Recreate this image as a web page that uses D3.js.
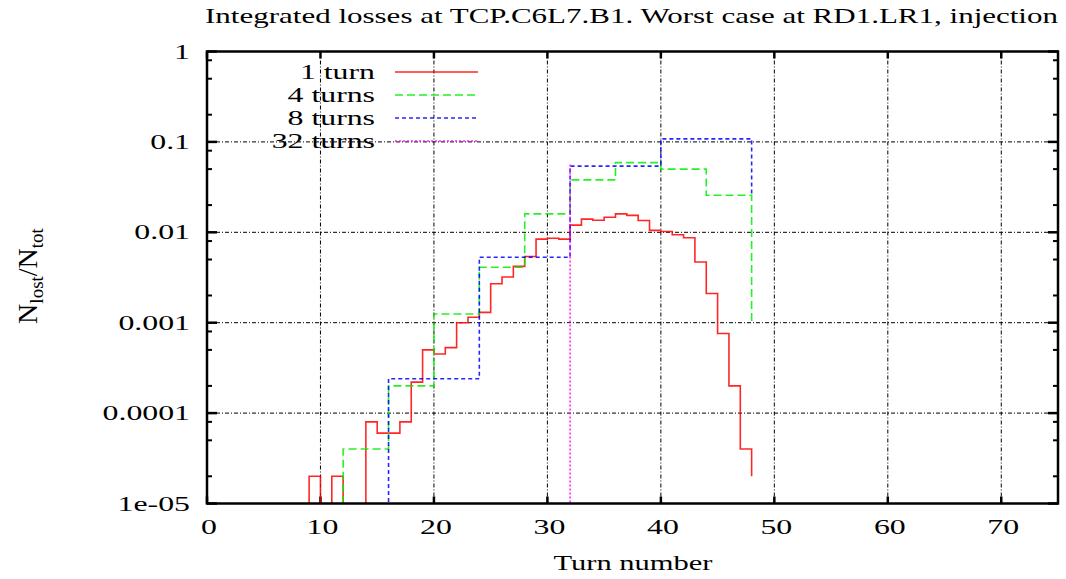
<!DOCTYPE html>
<html><head><meta charset="utf-8">
<script src="https://cdn.jsdelivr.net/npm/d3@7"></script>
<style>body{margin:0;background:#fff}svg{display:block}text{font-family:"Liberation Serif","Times New Roman",serif;fill:#000}</style>
</head><body><svg id="c" width="1066" height="579"></svg>
<script>
// ---- data ----
const title = "Integrated losses at TCP.C6L7.B1. Worst case at RD1.LR1, injection";
const xTicks = [0,10,20,30,40,50,60,70];
const yTicks = [1,0.1,0.01,0.001,0.0001,0.00001];
const yTickLabels = ["1","0.1","0.01","0.001","0.0001","1e-05"];
const turn1X = [8,9,10,11,12,13,14,15,16,17,18,19,20,21,22,23,24,25,26,27,28,29,30,31,32,33,34,35,36,37,38,39,40,41,42,43,44,45,46,47,48];
const turn1Y = [0,2e-5,0,2e-5,0,0,8e-5,6e-5,6e-5,8e-5,2.2e-4,5e-4,4.5e-4,5.3e-4,1.0e-3,1.15e-3,1.3e-3,2.7e-3,3.2e-3,4.2e-3,5.4e-3,8.4e-3,8.6e-3,8.4e-3,0.012,0.014,0.0136,0.0147,0.016,0.0154,0.0135,0.0105,0.0102,0.0094,0.0087,0.0047,0.0021,7.6e-4,2.0e-4,4e-5,2e-5];
const turn4X = [0,4,8,12,16,20,24,28,32,36,40,44,48];
const turn4Y = [0,0,0,4e-5,2e-4,1.25e-3,4.1e-3,0.016,0.038,0.059,0.050,0.0257,0.001];
const turn8X = [0,8,16,24,32,40,48];
const turn8Y = [0,0,2.4e-4,5.3e-3,0.054,0.108,0.026];
const turn32X = [0,32];
const turn32Y = [0,0.057];
const seriesNames = ["1 turn","4 turns","8 turns","32 turns"];

// ---- layout ----
const L=207,R=1058,T=51.5,B=503.5;
const SX=1.48, FS=21.5;
const svg=d3.select("#c");
const x=d3.scaleLinear().domain([0,75]).range([L,R]);
const y=d3.scaleLog().domain([1e-5,1]).range([B,T]);

svg.append("defs").append("clipPath").attr("id","pc").append("rect")
  .attr("x",L).attr("y",T).attr("width",R-L).attr("height",B-T);

function stext(txt,px,py,anchor,size,sx){
  const g=svg.append("g").attr("transform",`translate(${px},${py}) scale(${sx},1)`);
  return g.append("text").attr("text-anchor",anchor).attr("dominant-baseline","central")
    .style("font-size",size+"px").text(txt);
}

// grid
const gridDash="4,2,1,2";
svg.append("g").selectAll("line").data(xTicks.filter(d=>d>0)).join("line")
  .attr("x1",d=>x(d)).attr("x2",d=>x(d)).attr("y1",T).attr("y2",B)
  .attr("stroke","#000").attr("stroke-width",1).attr("stroke-dasharray",gridDash);
svg.append("g").selectAll("line").data(yTicks.filter(d=>d<1&&d>1e-5)).join("line")
  .attr("x1",L).attr("x2",R).attr("y1",d=>y(d)).attr("y2",d=>y(d))
  .attr("stroke","#000").attr("stroke-width",1).attr("stroke-dasharray",gridDash);

// ticks
const major=yTicks;
const minor=[];
for(let e=-5;e<0;e++){[2,5,8].forEach(m=>minor.push(m*Math.pow(10,e)));}
const tk=svg.append("g").attr("stroke","#000");
major.forEach(v=>{
  tk.append("line").attr("x1",L).attr("x2",L+10).attr("y1",y(v)).attr("y2",y(v)).attr("stroke-width",2.5);
  tk.append("line").attr("x1",R).attr("x2",R-10).attr("y1",y(v)).attr("y2",y(v)).attr("stroke-width",2.5);
});
minor.forEach(v=>{
  tk.append("line").attr("x1",L).attr("x2",L+5).attr("y1",y(v)).attr("y2",y(v)).attr("stroke-width",2);
  tk.append("line").attr("x1",R).attr("x2",R-5).attr("y1",y(v)).attr("y2",y(v)).attr("stroke-width",2);
});
xTicks.forEach(v=>{
  tk.append("line").attr("x1",x(v)).attr("x2",x(v)).attr("y1",B).attr("y2",B-7).attr("stroke-width",2.5);
  tk.append("line").attr("x1",x(v)).attr("x2",x(v)).attr("y1",T).attr("y2",T+7).attr("stroke-width",2.5);
});

// series
const series=[
  {xs:turn1X,ys:turn1Y,color:"#ff0000",dash:null},
  {xs:turn4X,ys:turn4Y,color:"#00ee00",dash:"8,4"},
  {xs:turn8X,ys:turn8Y,color:"#0000ff",dash:"4,3"},
  {xs:turn32X,ys:turn32Y,color:"#ff00ff",dash:"2,2"}
];
const line=d3.line().x(d=>x(d[0])).y(d=>d[1]>0?y(d[1]):B+20).curve(d3.curveStepAfter);
const pg=svg.append("g").attr("clip-path","url(#pc)");
series.forEach(s=>{
  const pts=s.xs.map((v,i)=>[v,s.ys[i]]);
  pg.append("path").attr("d",line(pts)).attr("fill","none").attr("stroke",s.color)
    .attr("stroke-width",1.6).attr("stroke-dasharray",s.dash).attr("opacity",0.85);
});

// border
svg.append("rect").attr("x",L).attr("y",T).attr("width",R-L).attr("height",B-T)
  .attr("fill","none").attr("stroke","#000").attr("stroke-width",2.5);

// tick labels
yTicks.forEach((v,i)=>stext(yTickLabels[i],190,y(v),"end",FS,SX));
xTicks.forEach(v=>stext(String(v),x(v)+2,527,"middle",FS,SX));

// legend
const lgY=[72,95,118,141];
seriesNames.forEach((n,i)=>{
  stext(n,375,lgY[i],"end",FS,SX);
  svg.append("line").attr("x1",395).attr("x2",478).attr("y1",lgY[i]).attr("y2",lgY[i])
    .attr("stroke",series[i].color).attr("stroke-width",1.6).attr("stroke-dasharray",series[i].dash).attr("opacity",0.85);
});

// title
svg.append("text").attr("x",205).attr("y",16).attr("dominant-baseline","central")
  .attr("textLength",853).attr("lengthAdjust","spacingAndGlyphs")
  .style("font-size","21px").text(title);

// x label
stext("Turn number",633,563,"middle",FS,1.42);

// y label
const yl=svg.append("text").attr("transform","translate(37,276) rotate(-90)").attr("text-anchor","middle")
  .style("font-size","28px");
yl.append("tspan").text("N");
yl.append("tspan").attr("dy",6).style("font-size","19px").text("lost");
yl.append("tspan").attr("dy",-6).text("/N");
yl.append("tspan").attr("dy",6).style("font-size","19px").text("tot");
</script></body></html>
